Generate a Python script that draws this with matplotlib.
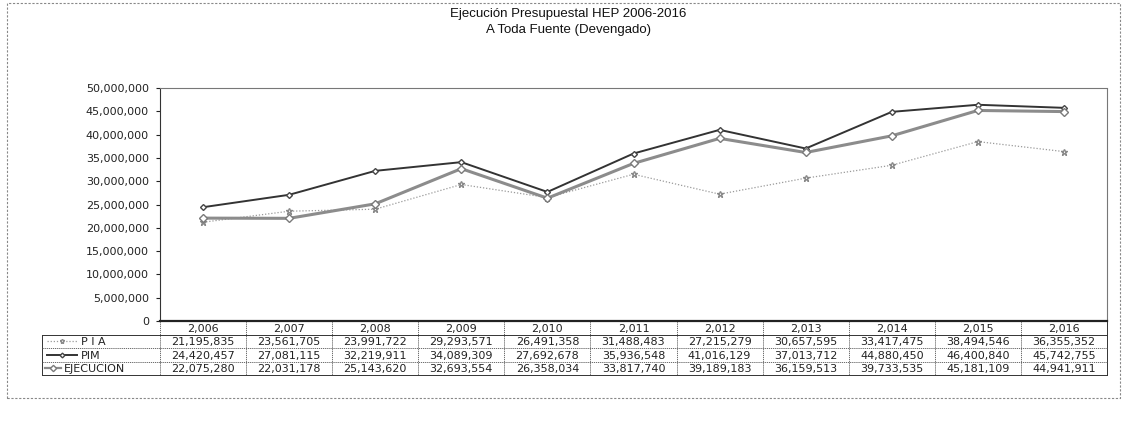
import matplotlib
matplotlib.use("Agg")
import matplotlib.pyplot as plt
from matplotlib.patches import Rectangle
from matplotlib.ticker import FuncFormatter
from matplotlib.transforms import blended_transform_factory

plt.rcParams['font.family'] = ['Liberation Sans', 'DejaVu Sans']

# data
years = [2006, 2007, 2008, 2009, 2010, 2011, 2012, 2013, 2014, 2015, 2016]
pia = [21195835, 23561705, 23991722, 29293571, 26491358, 31488483,
       27215279, 30657595, 33417475, 38494546, 36355352]
pim = [24420457, 27081115, 32219911, 34089309, 27692678, 35936548,
       41016129, 37013712, 44880450, 46400840, 45742755]
ejec = [22075280, 22031178, 25143620, 32693554, 26358034, 33817740,
        39189183, 36159513, 39733535, 45181109, 44941911]
series_names = ["P I A", "PIM", "EJECUCION"]
title = "Ejecución Presupuestal HEP 2006-2016\nA Toda Fuente (Devengado)"

W, H = 1125, 421
fig = plt.figure(figsize=(W / 100, H / 100), dpi=100)
num_font = ['DejaVu Sans']

def fy(y):
    # pixel row -> figure fraction
    return 1 - y / H

# plot area in pixels
left, right, top, bottom = 160, 1107, 88, 321
ax = fig.add_axes([left / W, fy(bottom), (right - left) / W, (bottom - top) / H])

styles = [
    dict(color="#9a9a9a", lw=0.9, ls=(0, (1, 1.5)), marker="*", ms=4.5, mfc="white", mec="#8a8a8a"),
    dict(color="#333333", lw=1.4, ls="-", marker="D", ms=3, mfc="white", mec="#444444"),
    dict(color="#8c8c8c", lw=2.2, ls="-", marker="D", ms=4, mfc="white", mec="#7a7a7a"),
]
xs = list(range(len(years)))
for vals, st in zip([pia, pim, ejec], styles):
    ax.plot(xs, vals, zorder=3, **st)

ax.set_xlim(-0.5, len(years) - 0.5)
ax.set_ylim(0, 50000000)
ax.set_yticks(range(0, 50000001, 5000000))
ax.yaxis.set_major_formatter(FuncFormatter(lambda v, p: "0" if v == 0 else f"{int(v):,}"))
ax.tick_params(axis="y", labelsize=8, length=3, width=0.8, colors="#222222", pad=5)
for lab in ax.get_yticklabels():
    lab.set_family(num_font)
ax.set_xticks([])
for s in ["top", "right"]:
    ax.spines[s].set_linestyle((0, (1, 1)))
    ax.spines[s].set_color("#777777")
    ax.spines[s].set_linewidth(0.8)
ax.spines["left"].set_color("#333333")
ax.spines["left"].set_linestyle((0, (2, 1)))
ax.spines["bottom"].set_color("#222222")
ax.spines["bottom"].set_linewidth(1.6)

# data table below the plot: x follows the plot's categories, y in pixel rows
tr = blended_transform_factory(ax.transData, fig.transFigure)
lab_left = 42
row_h = 13.5
rows_y = [bottom + row_h * k for k in range(5)]
tbl_bottom = rows_y[-1]
n = len(years)
line_kw = dict(transform=tr, clip_on=False, color="#333333", lw=0.7)
dash_kw = dict(transform=tr, clip_on=False, color="#555555", lw=0.6, ls=(0, (1.5, 1)))
# vertical separators between years
for j in range(n + 1):
    xe = j - 0.5
    kw = line_kw if j == n else dash_kw
    ax.plot([xe, xe], [fy(bottom), fy(tbl_bottom)], **kw)
# horizontal rules
for k, yy in enumerate(rows_y[1:], start=1):
    kw = line_kw if k in (1, 4) else dash_kw
    ax.plot([-0.5, n - 0.5], [fy(yy), fy(yy)], **kw)
# label column box
lab_kw = dict(transform=fig.transFigure, color="#333333", lw=0.7)
fig.add_artist(plt.Line2D([lab_left / W, lab_left / W], [fy(rows_y[1]), fy(tbl_bottom)], **lab_kw))
fig.add_artist(plt.Line2D([lab_left / W, left / W], [fy(rows_y[1]), fy(rows_y[1])], **lab_kw))
fig.add_artist(plt.Line2D([lab_left / W, left / W], [fy(tbl_bottom), fy(tbl_bottom)], **lab_kw))
for k in (2, 3):
    fig.add_artist(plt.Line2D([lab_left / W, left / W], [fy(rows_y[k]), fy(rows_y[k])],
                              transform=fig.transFigure, color="#555555", lw=0.6, ls=(0, (1.5, 1))))

txt_kw = dict(transform=tr, ha="center", va="center_baseline", fontsize=8,
              family=num_font, color="#222222", clip_on=False)
for j, yr in enumerate(years):
    ax.text(j, fy(bottom + row_h / 2), f"{yr:,}", **txt_kw)
for i, vals in enumerate([pia, pim, ejec]):
    yc = fy(bottom + row_h * (i + 1.5))
    for j, v in enumerate(vals):
        ax.text(j, yc, f"{v:,}", **txt_kw)

# legend keys and names in the row label column
key_x = [(47, 77, 81), (47, 77, 81), (45, 61, 64)]
for i, (name, st, (ka, kb, tx)) in enumerate(zip(series_names, styles, key_x)):
    yk = fy(bottom + row_h * (i + 1.5))
    fig.add_artist(plt.Line2D([ka / W, kb / W], [yk, yk], color=st["color"],
                              lw=min(st["lw"], 1.6), ls=st["ls"]))
    fig.add_artist(plt.Line2D([(ka + kb) / 2 / W], [yk], marker=st["marker"],
                              ms=st["ms"] * 0.8, mfc="white", mec=st["mec"], ls="none"))
    fig.text(tx / W, yk, name, fontsize=8, va="center_baseline", ha="left",
             family=num_font, color="#222222")

fig.text(568 / W, fy(22), title, ha="center", va="center", fontsize=9.5,
         linespacing=1.35, color="#111111")

# outer frame of the chart object
fig.add_artist(Rectangle((7 / W, fy(398)), 1113 / W, 395 / H, fill=False,
                         ec="#888888", lw=0.8, ls=(0, (2, 1.5))))

fig.savefig("out.png", dpi=100)
